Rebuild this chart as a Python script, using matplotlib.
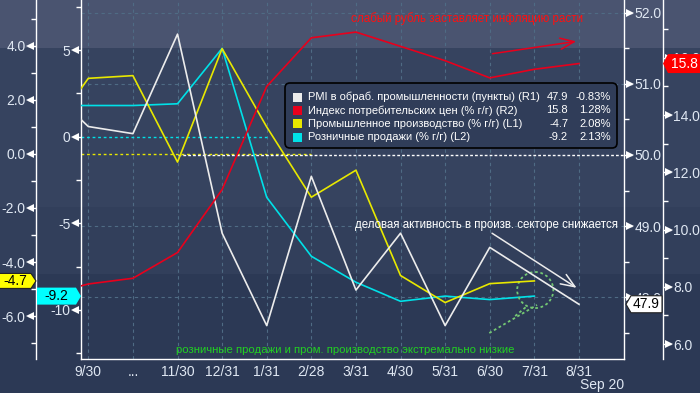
import numpy as np
import matplotlib.pyplot as plt
import matplotlib.transforms as mtransforms
from matplotlib.patches import Polygon, Rectangle, FancyBboxPatch, Ellipse

plt.rcParams['font.family'] = ['Liberation Sans', 'DejaVu Sans']
plt.rcParams['axes.unicode_minus'] = False

# data: first value of each series is the month before 9/30 (cut off by the left edge)
months = ['9/30', '...', '11/30', '12/31', '1/31', '2/28', '3/31', '4/30',
          '5/31', '6/30', '7/31', '8/31']
pmi = [51.0, 50.4, 50.3, 51.7, 48.9, 47.6, 49.7, 48.1, 48.9, 47.6, 48.7, 48.3, 47.9]
cpi = [7.7, 8.1, 8.3, 9.2, 11.4, 15.0, 16.7, 16.9, 16.4, 15.9, 15.3, 15.6, 15.8]
ind_prod = [0.5, 2.8, 2.9, -0.3, 3.9, 1.0, -1.6, -0.6, -4.5, -5.5, -4.8, -4.7, np.nan]
retail = [1.8, 1.8, 1.8, 1.9, 5.1, -3.5, -6.9, -8.4, -9.5, -9.2, -9.4, -9.2, np.nan]

legend_names = ['PMI в обраб. промышленности (пункты) (R1)',
                'Индекс потребительских цен (% г/г) (R2)',
                'Промышленное производство (% г/г) (L1)',
                'Розничные продажи (% г/г) (L2)']
legend_last = ['47.9', '15.8', '-4.7', '-9.2']
legend_chg = ['-0.83%', '1.28%', '2.08%', '2.13%']

WHITE, RED, YELLOW, CYAN = '#ececec', '#e8001c', '#e8e800', '#00e1e8'
GREEN = '#22d022'
TXT = '#dfe7f2'
GRID = '#4f6b84'

# layout in pixels (from top-left)
W, H = 700, 393
PL, PR, PB = 81, 624, 359
L1X, R2X = 36, 663
XMIN, XMAX = -0.164, 12.01


def P(x, y):
    return x / 100, (H - y) / 100


fig = plt.figure(figsize=(W / 100, H / 100), dpi=100, facecolor='#2c3955')
for y0, y1, c in [(0, 48, '#4a5470'), (48, 207, '#36435f'), (207, 274, '#323f5b')]:
    fig.patches.append(Rectangle(P(0, y1), W / 100, (y1 - y0) / 100,
                                 transform=fig.dpi_scale_trans, fc=c, ec='none', zorder=-5))

ax = fig.add_axes([PL / W, 1 - PB / H, (PR - PL) / W, PB / H])
ax.set_facecolor('none')
ax_l1 = ax.twinx()
ax_r1 = ax.twinx()
ax_r2 = ax.twinx()
ax_l1.yaxis.tick_left()
ax_l1.yaxis.set_label_position('left')

for a in (ax, ax_l1, ax_r1, ax_r2):
    for s in a.spines.values():
        s.set_visible(False)
        s.set_color('white')
        s.set_linewidth(1)
ax.spines['left'].set_visible(True)
ax.spines['bottom'].set_visible(True)
ax_l1.spines['left'].set_visible(True)
ax_l1.spines['left'].set_position(('axes', (L1X - PL) / (PR - PL)))
ax_r1.spines['right'].set_visible(True)
ax_r2.spines['right'].set_visible(True)
ax_r2.spines['right'].set_position(('axes', (R2X - PL) / (PR - PL)))

x = np.arange(-1, 12)
ax.set_xlim(XMIN, XMAX)
ax.set_xticks(range(12), months)
ax.tick_params(axis='x', length=0, labelsize=10, labelcolor=TXT, pad=4)


def style_axis(a, lims, major, minor, fmt, side, xfrac):
    a.set_ylim(lims)
    a.set_yticks(major, [fmt.format(v) for v in major])
    a.set_yticks(minor, minor=True)
    a.tick_params(axis='y', which='major', length=5.5, width=1, color='white',
                  labelcolor=TXT, labelsize=10, pad=2)
    a.tick_params(axis='y', which='minor', length=3.5, width=1, color='white')
    base = mtransforms.blended_transform_factory(a.transAxes, a.transData)
    dx = -6 if side == 'left' else 6
    tr = mtransforms.offset_copy(base, fig=fig, x=dx, y=0, units='dots')
    a.plot([xfrac] * len(major), major, ls='none', marker='<' if side == 'left' else '>',
           ms=5.5, mfc='white', mec='white', mew=0, transform=tr, clip_on=False, zorder=6)


style_axis(ax, (-12.83, 7.89), [-10, -5, 0, 5], [-12.5, -7.5, -2.5, 2.5, 7.5], '{:g}', 'left', 0)
style_axis(ax_l1, (-7.59, 5.70), [-6, -4, -2, 0, 2, 4], [-7, -5, -3, -1, 1, 3, 5], '{:.1f}',
           'left', (L1X - PL) / (PR - PL))
style_axis(ax_r1, (47.13, 52.18), [48, 49, 50, 51, 52], [47.5, 48.5, 49.5, 50.5, 51.5], '{:.1f}',
           'right', 1)
style_axis(ax_r2, (5.48, 18.02), [6, 8, 10, 12, 14, 16], [7, 9, 11, 13, 15, 17], '{:.1f}',
           'right', (R2X - PL) / (PR - PL))

# grid
ax.grid(axis='x', color=GRID, ls=(0, (3, 3)), lw=0.8)
ax.set_axisbelow(True)
r1_grid = mtransforms.blended_transform_factory(ax.transAxes, ax_r1.transData)
for v in [48, 49, 51, 52]:
    ax.plot([0, 1], [v, v], color=GRID, ls=(0, (3, 3)), lw=0.8, transform=r1_grid, zorder=0.5)

# reference dotted lines
ax.plot([XMIN, 4], [0, 0], color=CYAN, ls=(0, (2, 2)), lw=1, zorder=1)
ax.plot([XMIN, 5], [0, 0], color=YELLOW, ls=(0, (2, 2)), lw=1, zorder=1, transform=ax_l1.transData)
ax.plot([2, XMAX], [50, 50], color='white', ls=(0, (2, 1.5)), lw=1, zorder=1,
        transform=ax_r1.transData)

# series
ax.plot(x, retail, color=CYAN, lw=1.2, zorder=3)
ax_l1.plot(x, ind_prod, color=YELLOW, lw=1.2)
ax_r1.plot(x, pmi, color=WHITE, lw=1.2)
ax_r2.plot(x, cpi, color=RED, lw=1.2)

# annotations
ax_r2.annotate('', xy=(11, 16.59), xytext=(9, 16.13),
               arrowprops=dict(arrowstyle='->,head_length=1.0,head_width=0.4', color=RED, lw=1.1))
ax_r1.annotate('', xy=(11, 48.11), xytext=(9, 48.92),
               arrowprops=dict(arrowstyle='->,head_length=1.0,head_width=0.4', color=WHITE, lw=1.1))
ax.add_patch(Ellipse((10.02, -8.85), 0.81, 2.08, fill=False, ec='#74c874',
                     ls=(0, (1.5, 1.5)), lw=1.3, zorder=4))
ax.plot([8.99, 10.06], [-11.33, -9.71], color='#74c874', ls=(0, (1.5, 1.5)), lw=1.3, zorder=4)
ax.plot([9.57, 9.84], [-10.35, -9.77], color='#74c874', ls=(0, (1.5, 1.5)), lw=1.3, zorder=4)

fig.text(*P(467, 19), 'слабый рубль заставляет инфляцию расти', color='#ff1010',
         fontsize=8.4, ha='center', va='center', transform=fig.dpi_scale_trans)
fig.text(*P(486, 225), 'деловая активность в произв. секторе снижается', color='white',
         fontsize=8.3, ha='center', va='center', transform=fig.dpi_scale_trans)
fig.text(*P(345, 350), 'розничные продажи и пром. производство экстремально низкие', color=GREEN,
         fontsize=8.2, ha='center', va='center', transform=fig.dpi_scale_trans)
fig.text(*P(624, 385), 'Sep 20', color=TXT, fontsize=10, ha='right', va='center',
         transform=fig.dpi_scale_trans)

# legend box
fig.patches.append(FancyBboxPatch(P(285, 148), 3.32, 0.65, boxstyle='round,pad=0,rounding_size=0.05',
                                  transform=fig.dpi_scale_trans, fc='#303d59', ec='black',
                                  lw=1.2, zorder=6))
for i, (name, c) in enumerate(zip(legend_names, [WHITE, RED, YELLOW, CYAN])):
    yy = 97 + i * 13.4
    fig.patches.append(Rectangle(P(293, yy + 4.5), 0.09, 0.09, transform=fig.dpi_scale_trans,
                                 fc=c, ec='none', zorder=7))
    fig.text(*P(308, yy), name, color='white', fontsize=8, va='center', ha='left',
             transform=fig.dpi_scale_trans, zorder=7)
    fig.text(*P(568, yy), legend_last[i], color='white', fontsize=8, va='center', ha='right',
             transform=fig.dpi_scale_trans, zorder=7)
    fig.text(*P(611, yy), legend_chg[i], color='white', fontsize=8, va='center', ha='right',
             transform=fig.dpi_scale_trans, zorder=7)


# last-value tags on the axes
def tag(a, tip_x, value, side, width, h, fc, ec, tc, label):
    yd = a.transData.transform((0, value))[1] / 100
    t = tip_x / 100
    w = width / 100
    n = 5 / 100
    hh = h / 200
    if side == 'left':
        xs = [t, t - n, t - w, t - w, t - n]
        cx = t - (w + n) / 2
    else:
        xs = [t, t + n, t + w, t + w, t + n]
        cx = t + (w + n) / 2
    ys = [yd, yd + hh, yd + hh, yd - hh, yd - hh]
    fig.patches.append(Polygon(np.column_stack([xs, ys]), closed=True, transform=fig.dpi_scale_trans,
                               fc=fc, ec=ec, lw=0.8, zorder=8))
    fig.text(cx, yd, label, color=tc, fontsize=10, ha='center', va='center',
             transform=fig.dpi_scale_trans, zorder=9)


tag(ax_l1, L1X, ind_prod[-2], 'left', 37, 15, '#ffff00', '#222222', 'black', '-4.7')
tag(ax, PL, retail[-2], 'left', 44, 17, '#00ffff', 'none', 'black', '-9.2')
tag(ax_r2, R2X, cpi[-1], 'right', 38, 19, '#ff0000', 'none', 'white', '15.8')
tag(ax_r1, PR + 2, pmi[-1], 'right', 36, 17, 'white', '#222222', 'black', '47.9')

fig.savefig('out.png', dpi=100, facecolor=fig.get_facecolor())
